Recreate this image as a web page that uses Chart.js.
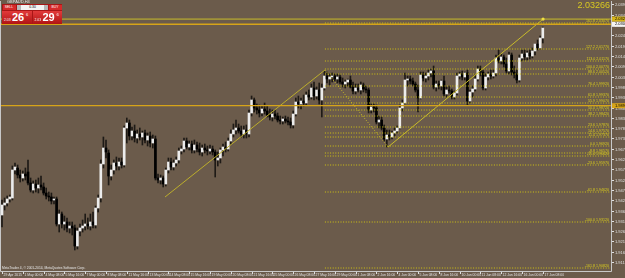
<!DOCTYPE html>
<html><head><meta charset="utf-8">
<script src="https://cdn.jsdelivr.net/npm/chart.js@4.4.0/dist/chart.umd.min.js"></script>
<style>
html,body{margin:0;padding:0;background:#6b5b4b;overflow:hidden}
#wrap{position:relative;width:625px;height:278px;overflow:hidden;font-family:"Liberation Sans",Arial,sans-serif}
#c{position:absolute;left:0;top:0}
.abs{position:absolute;white-space:nowrap}
#title{left:7px;top:-1px;font-size:4px;color:#e8e8e8}
#panel{left:2px;top:4px;width:60px;height:20px;background:#a81616}
.btn{position:absolute;top:0.5px;height:5px;background:#d62a2a;color:#fff;font-size:3.4px;line-height:5px;text-align:center}
.big{position:absolute;top:6.5px;height:13px;width:29.5px;background:linear-gradient(#e23a3a,#b01414);color:#fff}
.big .s{position:absolute;left:2px;top:7px;font-size:3.4px}
.big .b{position:absolute;left:10px;top:0px;font-size:11px;line-height:13px;font-weight:bold}
.big .p{position:absolute;left:24px;top:1px;font-size:4px}
#lot{position:absolute;left:15px;top:0.5px;width:31px;height:5px;background:#f4f4f4;color:#000;font-size:3.4px;line-height:5px;text-align:center}
#lot:before,#lot:after{content:"";position:absolute;top:0;width:4px;height:5px;background:#b8b8b8}
#lot:before{left:0}#lot:after{right:0}
#bigprice{right:15px;top:0px;font-size:9px;color:#d9c921}
#copy{left:2px;top:265.5px;font-size:3.3px;color:#e8e8e8}
</style></head><body>
<div id="wrap">
<canvas id="c" width="625" height="278"></canvas>
<div class="abs" id="title">GBPAUD,H4</div>
<div class="abs" id="panel">
  <div class="btn" style="left:0.5px;width:13px">SELL</div>
  <div id="lot">0.30</div>
  <div class="btn" style="left:46.5px;width:13px">BUY</div>
  <div class="big" style="left:0"><span class="s">2.03</span><span class="b">26</span><span class="p">6</span></div>
  <div class="big" style="left:30.5px"><span class="s">2.03</span><span class="b">29</span><span class="p">6</span></div>
</div>
<div class="abs" id="bigprice">2.03266</div>
<div class="abs" id="copy">MetaTrader 4, © 2001-2014, MetaQuotes Software Corp.</div>
</div>
<script>
// ---- data (GBPAUD H4, 29 Apr 2015 16:00 -> 17 Jun 2015 08:00) ----
const xLabels = ["29 Apr 2015","1 May 00:00","4 May 08:00","5 May 16:00","7 May 00:00","8 May 08:00","11 May 16:00","13 May 00:00","14 May 08:00","15 May 16:00","19 May 00:00","20 May 08:00","21 May 16:00","25 May 00:00","26 May 08:00","27 May 16:00","29 May 00:00","1 Jun 08:00","2 Jun 16:00","4 Jun 00:00","5 Jun 08:00","8 Jun 16:00","10 Jun 00:00","11 Jun 08:00","12 Jun 16:00","16 Jun 00:00","17 Jun 08:00"];
const barsPerLabel = 8;
const open = [1.9347,1.9397,1.9407,1.9427,1.9432,1.9572,1.9582,1.9547,1.9532,1.9552,1.9562,1.9507,1.9472,1.9502,1.9482,1.9497,1.9487,1.9457,1.9442,1.9437,1.9422,1.9427,1.9302,1.9352,1.9302,1.9312,1.9282,1.9292,1.9282,1.9192,1.9267,1.9282,1.9292,1.9302,1.9292,1.9312,1.9297,1.9382,1.9432,1.9602,1.9682,1.9657,1.9542,1.9572,1.9607,1.9592,1.9612,1.9597,1.9782,1.9807,1.9742,1.9767,1.9732,1.9752,1.9737,1.9757,1.9722,1.9742,1.9707,1.9727,1.9532,1.9522,1.9532,1.9502,1.9572,1.9612,1.9587,1.9607,1.9622,1.9667,1.9677,1.9717,1.9687,1.9702,1.9672,1.9697,1.9677,1.9662,1.9682,1.9672,1.9667,1.9677,1.9662,1.9622,1.9632,1.9672,1.9687,1.9677,1.9717,1.9752,1.9772,1.9782,1.9767,1.9752,1.9772,1.9752,1.9857,1.9922,1.9882,1.9872,1.9857,1.9877,1.9867,1.9847,1.9837,1.9852,1.9842,1.9822,1.9817,1.9827,1.9817,1.9812,1.9797,1.9852,1.9912,1.9902,1.9917,1.9907,1.9947,1.9937,1.9982,1.9942,1.9972,1.9922,1.9982,2.0042,2.0027,2.0037,2.0042,2.0027,2.0037,2.0012,2.0002,2.0012,2.0022,1.9987,1.9967,1.9982,1.9972,1.9997,1.9977,1.9972,1.9872,1.9887,1.9882,1.9812,1.9822,1.9782,1.9727,1.9747,1.9737,1.9757,1.9767,1.9782,1.9882,1.9907,2.0022,2.0027,2.0017,2.0002,1.9972,1.9932,2.0047,2.0032,2.0042,2.0057,2.0067,1.9987,2.0002,1.9992,2.0017,1.9952,1.9972,1.9967,1.9937,1.9957,2.0042,2.0052,2.0037,2.0057,1.9917,1.9962,1.9977,2.0027,2.0077,2.0062,1.9982,2.0037,2.0052,2.0042,2.0057,2.0132,2.0117,2.0137,2.0102,2.0067,2.0147,2.0062,2.0052,2.0022,2.0132,2.0152,2.0137,2.0157,2.0142,2.0167,2.0202,2.0182,2.0232];
const high = [1.9422,1.9432,1.9442,1.9447,1.9592,1.9607,1.9597,1.9572,1.9567,1.9582,1.9622,1.9532,1.9517,1.9522,1.9532,1.9542,1.9507,1.9482,1.9462,1.9457,1.9437,1.9437,1.9372,1.9362,1.9342,1.9332,1.9312,1.9312,1.9297,1.9282,1.9302,1.9322,1.9352,1.9332,1.9352,1.9362,1.9392,1.9447,1.9622,1.9737,1.9722,1.9672,1.9597,1.9622,1.9637,1.9632,1.9632,1.9792,1.9832,1.9822,1.9787,1.9797,1.9772,1.9782,1.9767,1.9772,1.9757,1.9762,1.9747,1.9742,1.9552,1.9547,1.9542,1.9582,1.9632,1.9632,1.9622,1.9637,1.9682,1.9692,1.9732,1.9732,1.9717,1.9717,1.9722,1.9712,1.9707,1.9697,1.9702,1.9692,1.9697,1.9692,1.9672,1.9662,1.9682,1.9702,1.9712,1.9732,1.9772,1.9802,1.9822,1.9802,1.9792,1.9792,1.9797,1.9872,1.9942,1.9932,1.9902,1.9897,1.9892,1.9907,1.9892,1.9877,1.9872,1.9872,1.9857,1.9842,1.9837,1.9842,1.9837,1.9832,1.9867,1.9932,1.9942,1.9932,1.9947,1.9962,1.9972,2.0002,2.0012,1.9987,2.0007,2.0002,2.0067,2.0062,2.0052,2.0057,2.0052,2.0052,2.0047,2.0032,2.0022,2.0027,2.0042,2.0012,2.0002,2.0002,2.0012,2.0007,1.9992,1.9982,1.9902,1.9902,1.9897,1.9842,1.9837,1.9797,1.9772,1.9772,1.9767,1.9782,1.9792,1.9897,1.9922,2.0057,2.0042,2.0042,2.0032,2.0012,1.9997,2.0062,2.0062,2.0057,2.0072,2.0077,2.0092,2.0017,2.0017,2.0022,2.0042,1.9987,1.9992,1.9977,1.9967,2.0057,2.0062,2.0067,2.0062,2.0072,1.9972,1.9992,2.0047,2.0092,2.0092,2.0072,2.0052,2.0062,2.0072,2.0072,2.0147,2.0172,2.0152,2.0147,2.0132,2.0162,2.0157,2.0092,2.0072,2.0147,2.0172,2.0172,2.0167,2.0172,2.0182,2.0202,2.0222,2.0242,2.0287];
const low = [1.9287,1.9372,1.9392,1.9412,1.9422,1.9552,1.9532,1.9512,1.9517,1.9522,1.9497,1.9462,1.9457,1.9462,1.9457,1.9472,1.9447,1.9427,1.9417,1.9402,1.9402,1.9292,1.9262,1.9282,1.9272,1.9262,1.9257,1.9247,1.9172,1.9177,1.9242,1.9262,1.9272,1.9277,1.9272,1.9282,1.9282,1.9362,1.9412,1.9582,1.9632,1.9497,1.9522,1.9552,1.9572,1.9572,1.9582,1.9587,1.9707,1.9722,1.9722,1.9712,1.9707,1.9722,1.9697,1.9707,1.9692,1.9687,1.9682,1.9522,1.9507,1.9502,1.9487,1.9492,1.9557,1.9572,1.9572,1.9592,1.9607,1.9652,1.9662,1.9677,1.9672,1.9657,1.9657,1.9662,1.9647,1.9642,1.9657,1.9647,1.9652,1.9647,1.9537,1.9592,1.9607,1.9642,1.9662,1.9667,1.9702,1.9737,1.9752,1.9757,1.9737,1.9732,1.9732,1.9737,1.9842,1.9862,1.9852,1.9837,1.9842,1.9852,1.9837,1.9822,1.9817,1.9827,1.9812,1.9802,1.9802,1.9807,1.9797,1.9782,1.9782,1.9842,1.9882,1.9877,1.9892,1.9897,1.9922,1.9927,1.9922,1.9927,1.9902,1.9837,1.9972,2.0007,1.9997,2.0012,2.0017,2.0007,2.0002,1.9987,1.9982,1.9992,1.9982,1.9952,1.9952,1.9962,1.9952,1.9962,1.9957,1.9857,1.9857,1.9862,1.9802,1.9782,1.9772,1.9717,1.9687,1.9722,1.9727,1.9742,1.9757,1.9777,1.9867,1.9902,1.9992,2.0002,1.9992,1.9962,1.9862,1.9927,2.0017,2.0012,2.0022,2.0037,1.9977,1.9967,1.9977,1.9972,1.9942,1.9937,1.9957,1.9927,1.9927,1.9947,2.0027,2.0022,2.0022,1.9897,1.9907,1.9937,1.9967,2.0017,2.0042,1.9972,1.9972,2.0022,2.0027,2.0032,2.0042,2.0107,2.0102,2.0087,2.0057,2.0052,2.0047,2.0032,2.0007,2.0012,2.0117,2.0122,2.0122,2.0127,2.0132,2.0147,2.0172,2.0177,2.0207];
const close = [1.9397,1.9407,1.9427,1.9437,1.9572,1.9587,1.9547,1.9532,1.9552,1.9542,1.9507,1.9472,1.9502,1.9482,1.9497,1.9487,1.9457,1.9442,1.9437,1.9417,1.9427,1.9302,1.9352,1.9302,1.9312,1.9282,1.9292,1.9282,1.9192,1.9267,1.9282,1.9292,1.9302,1.9292,1.9312,1.9297,1.9382,1.9432,1.9602,1.9682,1.9662,1.9542,1.9572,1.9607,1.9592,1.9612,1.9597,1.9782,1.9807,1.9742,1.9767,1.9732,1.9752,1.9737,1.9757,1.9722,1.9742,1.9707,1.9727,1.9532,1.9522,1.9532,1.9502,1.9572,1.9612,1.9587,1.9607,1.9622,1.9667,1.9677,1.9717,1.9687,1.9702,1.9672,1.9697,1.9677,1.9662,1.9682,1.9672,1.9667,1.9677,1.9662,1.9622,1.9632,1.9672,1.9687,1.9677,1.9717,1.9752,1.9772,1.9782,1.9767,1.9752,1.9772,1.9752,1.9857,1.9922,1.9882,1.9872,1.9857,1.9877,1.9867,1.9847,1.9837,1.9852,1.9842,1.9822,1.9817,1.9827,1.9817,1.9812,1.9797,1.9852,1.9912,1.9902,1.9917,1.9907,1.9947,1.9937,1.9982,1.9942,1.9972,1.9922,1.9982,2.0042,2.0027,2.0037,2.0042,2.0027,2.0037,2.0012,2.0002,2.0012,2.0022,1.9987,1.9967,1.9982,1.9972,1.9997,1.9977,1.9972,1.9872,1.9887,1.9882,1.9812,1.9822,1.9782,1.9727,1.9747,1.9737,1.9757,1.9767,1.9782,1.9882,1.9907,2.0022,2.0027,2.0017,2.0002,1.9972,1.9932,2.0047,2.0032,2.0042,2.0057,2.0067,1.9987,2.0002,1.9992,2.0017,1.9952,1.9972,1.9967,1.9937,1.9957,2.0042,2.0052,2.0037,2.0057,1.9917,1.9962,1.9977,2.0027,2.0077,2.0062,1.9982,2.0037,2.0052,2.0042,2.0057,2.0132,2.0117,2.0137,2.0102,2.0067,2.0147,2.0062,2.0052,2.0022,2.0132,2.0152,2.0137,2.0157,2.0142,2.0167,2.0202,2.0182,2.0232,2.0282];
const priceTicks = [2.03995,2.03480,2.02965,2.02450,2.01935,2.01420,2.00905,2.00390,1.99875,1.99360,1.98845,1.98330,1.97815,1.97300,1.96785,1.96270,1.95755,1.95240,1.94725,1.94210,1.93695,1.93180,1.92665,1.92150,1.91635,1.91120];
const bidPrice = 2.03266;
const hLinePrices = [2.03005, 1.98935];
// fibonacci levels: [level text, price]
const fibLevelNames = ["161.8","127.2","113.0","100.0","88.6","76.4","61.8","55.9","50.0","38.2","23.6","14.6","11.4","0.0","-8.8","-11.4","-23.6","-61.8","-100.0","-161.8"];
const fibPrices = [2.0307,2.0177,2.0117,2.0077,2.0052,1.9992,1.9937,1.9907,1.9872,1.9842,1.9787,1.9757,1.9737,1.9692,1.9657,1.9642,1.9597,1.9462,1.9312,1.9082];
const fibStartBar = 124.2;
// trend lines: [barFrom, priceFrom, barTo, priceTo]
const trendSolid1 = [62.7, 1.9437, 124.2, 2.0072];
const trendDotted = [124.2, 2.0072, 148.5, 1.9687];
const trendSolid2 = [148.5, 1.9687, 208.1, 2.03266];

// ---- view ----
const X_MIN = -0.385, X_MAX = 234.23;
const Y_MIN = 1.9067, Y_MAX = 2.0417;

const n = open.length;
const wickData = [], bodyData = [], bodyColors = [];
for (let i = 0; i < n; i++) {
  wickData.push({x: i, y: [low[i], high[i]]});
  bodyData.push({x: i, y: [Math.min(open[i], close[i]), Math.max(open[i], close[i])]});
  bodyColors.push(close[i] > open[i] ? '#ececec' : '#000000');
}
function seg(a, color, dash, width) {
  return {type: 'line', data: [{x: a[0], y: a[1]}, {x: a[2], y: a[3]}], borderColor: color,
    borderWidth: width || 1, borderDash: dash || [], pointRadius: 0, order: 0, clip: false};
}
const datasets = [
  {type: 'bar', data: wickData, backgroundColor: '#1e1a16', barThickness: 1, grouped: false, order: 3},
  {type: 'bar', data: bodyData, backgroundColor: bodyColors, barThickness: 2, grouped: false, minBarLength: 1, order: 2}
];
fibPrices.forEach(p => datasets.push(seg([fibStartBar, p, X_MAX, p], '#d2c512', [1, 1.6], 1)));
datasets.push(seg([X_MIN, hLinePrices[0], X_MAX, hLinePrices[0]], '#d6a419', [], 1.5));
datasets.push(seg([X_MIN, hLinePrices[1], X_MAX, hLinePrices[1]], '#d6a419', [], 1.2));
datasets.push(seg([X_MIN, bidPrice, X_MAX, bidPrice], '#c9bc2a', [], 1));
datasets.push(seg(trendSolid1, '#bcae2c', [], 1));
datasets.push(seg(trendDotted, '#c9bc2a', [1, 1.6], 1));
datasets.push(seg(trendSolid2, '#c9bc2a', [], 1));

const FONT = '"Liberation Sans", Arial';
const overlay = {
  id: 'overlay',
  afterDatasetsDraw(chart) {
    const {ctx, chartArea: ca, scales: {x, y}} = chart;
    ctx.save();
    // fib level captions
    ctx.font = '3.6px ' + FONT;
    ctx.fillStyle = '#dccf1c';
    ctx.textAlign = 'right';
    ctx.textBaseline = 'bottom';
    fibPrices.forEach((p, k) => {
      ctx.fillText(fibLevelNames[k] + ' ' + p.toFixed(5), ca.right - 2, y.getPixelForValue(p) - 0.3);
    });
    // end point of trend line
    ctx.fillStyle = '#f0e040';
    ctx.beginPath();
    ctx.arc(x.getPixelForValue(trendSolid2[2]), y.getPixelForValue(trendSolid2[3]), 1.6, 0, Math.PI * 2);
    ctx.fill();
    // frame
    ctx.strokeStyle = '#c8c8c8';
    ctx.lineWidth = 1;
    ctx.beginPath();
    ctx.moveTo(ca.left - 0.5, ca.top);
    ctx.lineTo(ca.left - 0.5, ca.bottom + 0.5);
    ctx.lineTo(ca.right + 0.5, ca.bottom + 0.5);
    ctx.lineTo(ca.right + 0.5, ca.top);
    ctx.stroke();
    // x axis: tick marks and labels
    ctx.fillStyle = '#e0e0e0';
    ctx.font = '3.4px ' + FONT;
    ctx.textAlign = 'left';
    ctx.textBaseline = 'middle';
    xLabels.forEach((lab, k) => {
      const px = Math.round(x.getPixelForValue(k * barsPerLabel));
      ctx.fillRect(px, ca.bottom + 1, 1, 2);
      ctx.fillText(lab, px + 1.5, ca.bottom + 4.2);
    });
    // y axis: tick marks and labels
    ctx.font = '4px ' + FONT;
    priceTicks.forEach(p => {
      const py = Math.round(y.getPixelForValue(p));
      ctx.fillRect(ca.right + 1, py, 2, 1);
      ctx.fillText(p.toFixed(5), ca.right + 4, py + 0.5);
    });
    // price boxes on axis
    const boxes = [[bidPrice, '#d6b419', '#000'], [hLinePrices[0], '#f4f4f4', '#000'], [hLinePrices[1], '#d6a419', '#000']];
    boxes.forEach(([p, bg, fg]) => {
      const py = y.getPixelForValue(p);
      ctx.fillStyle = bg;
      ctx.fillRect(ca.right + 1, py - 2.5, 20, 5);
      ctx.fillStyle = fg;
      ctx.fillText(p.toFixed(5), ca.right + 4, py);
    });
    ctx.restore();
  }
};

new Chart(document.getElementById('c'), {
  data: {datasets},
  options: {
    responsive: false, animation: false, devicePixelRatio: 1,
    layout: {autoPadding: false, padding: {left: 1, top: 1, right: 14, bottom: 7}},
    plugins: {legend: {display: false}, tooltip: {enabled: false}},
    scales: {
      x: {type: 'linear', min: X_MIN, max: X_MAX, display: false, offset: false},
      y: {type: 'linear', min: Y_MIN, max: Y_MAX, display: false, offset: false}
    }
  },
  plugins: [overlay]
});
</script>
</body></html>
